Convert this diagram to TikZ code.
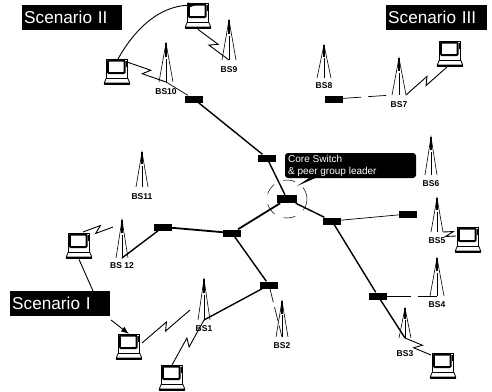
\documentclass[tikz,border=0pt]{standalone}
\usepackage{fontspec}
\setmainfont{Liberation Sans}
\usetikzlibrary{calc,arrows.meta}
\tikzset{
 sw/.style={fill=black,draw=none,minimum width=18pt,minimum height=7pt,inner sep=0pt},
 lab/.style={font=\fontsize{8.5}{9}\selectfont\bfseries,inner sep=0pt},
 scen/.style={fill=black,text=white,font=\fontsize{17.2}{18}\selectfont,inner sep=0pt,anchor=west,text depth=0pt},
 trunk/.style={line width=1.4pt},
 thin link/.style={line width=0.7pt},
 broken/.style={line width=0.7pt,dash pattern=on 24pt off 7pt},
 wire/.style={line width=0.9pt},
 tw/.style={line width=0.6pt},
}
% \tower{name}{apex x}{apex y}{base y}{half width}{label}{label y}
\newcommand{\tower}[7]{%
 \coordinate (#1) at (#2,#3);
 \coordinate (#1b) at (#2,#4);
 \coordinate (#1l) at ($(#1b)+(-#5,0)$);
 \coordinate (#1r) at ($(#1b)+(#5,0)$);
 \draw[tw] (#1l) -- (#1) -- (#1r);
 \draw[line width=1.1pt] (#1) -- ($(#1)!.35!(#1b)$);
 \draw[line width=0.4pt] ($(#1)!.4!(#1b)$) -- (#1b);
 \node[lab] (#1t) at (#2,#7) {#6};
}
% \laptop{name}{cx}{top y}
\newcommand{\laptop}[3]{%
 \node[minimum width=25pt,minimum height=26pt,inner sep=0pt,anchor=north] (#1) at (#2,#3) {};
 \draw[line width=0.6pt] ($(#1.north west)+(2,0)$) rectangle ($(#1.north east)+(-2,19)$);
 \draw[line width=2pt,rounded corners=1pt] ($(#1.north west)+(3.5,1.5)$) rectangle ($(#1.north east)+(-5,14)$);
 \fill ($(#1.north east)+(-3.5,2)$) rectangle ($(#1.north east)+(-2.5,8)$);
 \draw[line width=0.8pt] ($(#1.north west)+(2,19)$) -- ($(#1.south west)+(0,-2.5)$) -- ($(#1.south east)+(0,-2.5)$) -- ($(#1.north east)+(-2,19)$);
 \fill ($(#1.south west)+(0,-2.5)$) rectangle (#1.south east);
}
% \zap{from}{to}: a straight link with one lightning kink in the middle
\newcommand{\zap}[2]{%
 \coordinate (zm) at ($(#1)!.5!(#2)$);
 \draw[wire] (#1) -- ($(zm)!3pt!(#2)!3.5pt!90:(#2)$) -- ($(zm)!-3pt!(#2)!3.5pt!-90:(#2)$) -- (#2);
}
\begin{document}
\begin{tikzpicture}[x=1pt,y=-1pt]
\useasboundingbox (0,0) rectangle (492,391);
% towers
\tower{b9}{229}{20}{60}{7}{BS9}{70}
\tower{b10}{166}{43}{82}{7}{BS10}{92}
\tower{b11}{142}{152}{187}{6}{BS11}{197}
\tower{b12}{122}{220}{258}{6}{BS 12}{266}
\tower{b1}{204}{279}{320}{6}{BS1}{329}
\tower{b2}{282}{301}{337}{6}{BS2}{346}
\tower{b3}{405}{308}{338}{6}{BS3}{354}
\tower{b4}{437}{258}{296}{7}{BS4}{305}
\tower{b5}{437}{198}{232}{6}{BS5}{241}
\tower{b6}{431}{137}{175}{6}{BS6}{184}
\tower{b7}{399}{58}{95}{7}{BS7}{105}
\tower{b8}{324}{45}{78}{7}{BS8}{86}
% switches
\node[sw] (s1) at (194,99) {};
\node[sw] (s2) at (267,158) {};
\node[sw,minimum width=20pt,minimum height=8pt] (s3) at (287,199) {};
\node[sw] (s4) at (332,221) {};
\node[sw] (s5) at (163,227) {};
\node[sw] (s6) at (232,233) {};
\node[sw] (s7) at (269,285) {};
\node[sw] (s8) at (378,296) {};
\node[sw] (s9) at (408,214) {};
\node[sw] (s10) at (334,99) {};
% wired links
\draw[trunk] (s1) -- (s2);
\draw[trunk] (s2) -- (s3);
\draw[line width=1.8pt] (s3) -- (s6);
\draw[line width=1.8pt] (s6) -- (s5);
\draw[trunk] (s6) -- (s7);
\draw[trunk] (s7) -- (b1b);
\draw[trunk] (s3) -- (s4);
\draw[trunk] (s4) -- (s8);
\draw[trunk] (s8) -- (b3b);
\draw[trunk] (s5) -- (b12b);
\draw[thin link] (s4) -- (s9);
\draw[broken] (s8) -- (b4b);
\draw[thin link,dash pattern=on 14pt off 5pt] (s7) -- (b2b);
\draw[thin link] (s1) -- (b10b);
\draw[broken,dash pattern=on 18pt off 7pt] (s10) -- (b7l);
% core circle
\draw[line width=0.5pt,dash pattern=on 12pt off 10pt] (s3) ellipse (20 and 19);
% laptops
\laptop{l1}{198}{3}
\laptop{l2}{117}{59}
\laptop{l3}{450}{41}
\laptop{l4}{79}{233}
\laptop{l5}{129}{334}
\laptop{l6}{172}{365}
\laptop{l7}{468}{227}
\laptop{l8}{443}{353}
% wireless links
\zap{l1.south}{b9b}
\coordinate (l2e) at (127,62);
\zap{l2e}{b10b}
\coordinate (l3e) at (447,67);
\zap{l3e}{b7r}
\coordinate (l4e) at (83,232);
\coordinate (b12z) at (113,227);
\zap{l4e}{b12z}
\coordinate (l5e) at (142,343);
\coordinate (b1z) at (190,310);
\zap{l5e}{b1z}
\zap{l6.north}{b1b}
\coordinate (l7e) at (456,236);
\zap{l7e}{b5r}
\coordinate (l8e) at (431,355);
\zap{l8e}{b3b}
% other connectors
\coordinate (l2top) at (118,59);
\coordinate (l1in) at (196,5);
\draw[line width=0.9pt,-{Latex[length=8pt,width=6pt]}] (l2top) .. controls (137,25) and (162,6) .. (l1in);
% scenario labels
\node[scen,minimum width=100pt,minimum height=25pt,text width=100pt,align=left] (sc2) at (22,17) {\hspace{2pt}Scenario II};
\node[scen,minimum width=101pt,minimum height=25pt,text width=101pt,align=left] (sc3) at (386,17) {\hspace{2pt}Scenario III};
\node[scen,minimum width=100pt,minimum height=25pt,text width=100pt,align=left] (sc1) at (10,303) {\hspace{2pt}Scenario I};
\coordinate (sc1t) at (93,291);
\draw[wire] (l4.south) -- (sc1t);
\coordinate (sc1a) at (111,320);
\draw[line width=0.9pt,-{Latex[length=8pt,width=6pt]}] (sc1a) -- (l5.north);
% callout
\fill[rounded corners=3pt] (285,153) rectangle (416,178);
\node[anchor=north west,text=white,font=\fontsize{10}{12}\selectfont,align=left,inner sep=0pt] (callout) at (288,155) {Core Switch\\\&~peer group leader};
\coordinate (tip) at (297,186);
\fill (tip) -- (312,176) -- (320,176) -- cycle;
\end{tikzpicture}
\end{document}
